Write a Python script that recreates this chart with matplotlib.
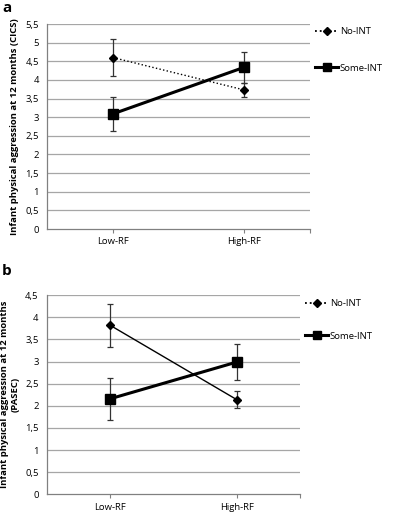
import matplotlib
matplotlib.use("Agg")
import matplotlib.pyplot as plt
from matplotlib.lines import Line2D

plt.rcParams['font.family'] = ['Open Sans', 'DejaVu Sans']

categories = ['Low-RF', 'High-RF']
series = ['No-INT', 'Some-INT']

# panel a (CICS)
a_no_int = [4.6, 3.73]
a_no_int_err = [0.49, 0.2]
a_some_int = [3.09, 4.34]
a_some_int_err = [0.46, 0.41]
a_yticks = [0, 0.5, 1, 1.5, 2, 2.5, 3, 3.5, 4, 4.5, 5, 5.5]
a_yticklabels = ['0', '0,5', '1', '1,5', '2', '2,5', '3', '3,5', '4', '4,5', '5', '5,5']

# panel b (PASEC)
b_no_int = [3.82, 2.14]
b_no_int_err = [0.49, 0.2]
b_some_int = [2.16, 2.99]
b_some_int_err = [0.47, 0.41]
b_yticks = [0, 0.5, 1, 1.5, 2, 2.5, 3, 3.5, 4, 4.5]
b_yticklabels = ['0', '0,5', '1', '1,5', '2', '2,5', '3', '3,5', '4', '4,5']

fig = plt.figure(figsize=(3.93, 5.12), dpi=100)
ax_a = fig.add_axes([0.1204, 0.5527, 0.6684, 0.4004])
ax_b = fig.add_axes([0.1196, 0.0346, 0.6438, 0.3887])

FS = 6.8


def draw_panel(ax, no_int, no_err, some_int, some_err, yticks, ylabels, ylabel, no_ls, lpad):
    x = list(range(len(categories)))
    for yt in yticks[1:]:
        ax.axhline(yt, color='#a6a6a6', lw=0.9, zorder=0)
    ax.errorbar(x, no_int, yerr=no_err, color='black', ls=no_ls, lw=1.0,
                marker='D', ms=4.2, ecolor='#333333', elinewidth=0.9,
                capsize=1.9, capthick=0.9, zorder=3)
    ax.errorbar(x, some_int, yerr=some_err, color='black', ls='-', lw=2.2,
                marker='s', ms=6.5, ecolor='#333333', elinewidth=0.9,
                capsize=1.9, capthick=0.9, zorder=4)
    ax.set_xlim(-0.5, 1.5)
    ax.set_ylim(0, yticks[-1])
    ax.set_yticks(yticks)
    ax.set_yticklabels(ylabels, fontsize=FS)
    ax.set_xticks([0, 1, 1.5])
    ax.set_xticklabels(categories + [''], fontsize=FS)
    ax.tick_params(axis='x', length=3, color='#808080', pad=3)
    ax.tick_params(axis='y', length=0, pad=6)
    for s in ['top', 'right']:
        ax.spines[s].set_visible(False)
    for s in ['left', 'bottom']:
        ax.spines[s].set_color('#808080')
        ax.spines[s].set_linewidth(0.9)
    ax.set_ylabel(ylabel, fontsize=FS, fontweight='bold', labelpad=lpad)


draw_panel(ax_a, a_no_int, a_no_int_err, a_some_int, a_some_int_err,
           a_yticks, a_yticklabels,
           'Infant physical aggression at 12 months (CICS)', ':', 5)
draw_panel(ax_b, b_no_int, b_no_int_err, b_some_int, b_some_int_err,
           b_yticks, b_yticklabels,
           'Infant physical aggression at 12 months\n(PASEC)', '-', 4)

handles = [
    Line2D([], [], color='black', ls=':', lw=1.3, marker='D', ms=4.2),
    Line2D([], [], color='black', ls='-', lw=2.2, marker='s', ms=5.5),
]
fig.legend(handles, series, loc='upper left', bbox_to_anchor=(0.802, 0.947),
           frameon=False, fontsize=FS, handlelength=2.4, handletextpad=0.2,
           labelspacing=2.9, borderaxespad=0, borderpad=0)
fig.legend(handles, series, loc='upper left', bbox_to_anchor=(0.777, 0.416),
           frameon=False, fontsize=FS, handlelength=2.4, handletextpad=0.2,
           labelspacing=2.5, borderaxespad=0, borderpad=0)

fig.text(0.005, 0.998, 'a', fontsize=11, fontweight='bold', va='top', ha='left')
fig.text(0.005, 0.484, 'b', fontsize=11, fontweight='bold', va='top', ha='left')

fig.savefig('out.png', dpi=100)
